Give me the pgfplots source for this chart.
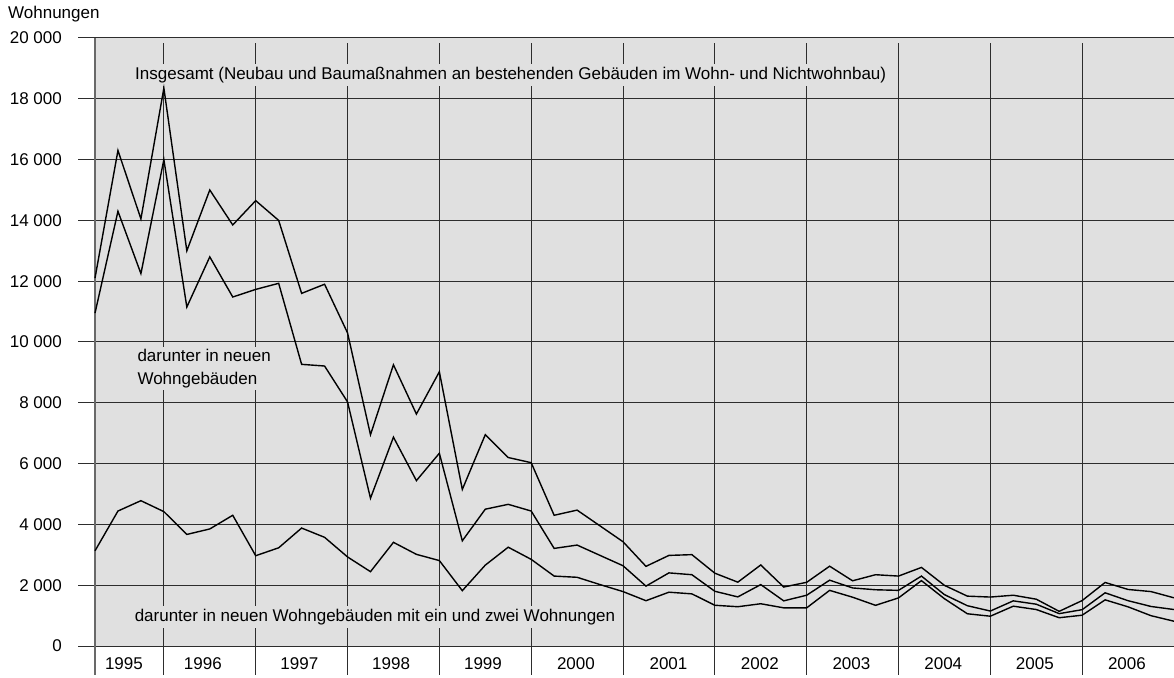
\documentclass[border=0pt]{standalone}
\usepackage{pgfplots}
\pgfplotsset{compat=1.18}
\usepackage{pgfplotstable}
\usepackage{fontspec}
\setmainfont{Liberation Sans}
\definecolor{bg}{RGB}{224,224,224}
\definecolor{gridc}{RGB}{45,45,45}
\definecolor{leftc}{RGB}{105,105,105}

\pgfplotstableread{
i v
0 12100
1 16300
2 14050
3 18350
4 13000
5 15000
6 13850
7 14650
8 14000
9 11600
10 11900
11 10300
12 6950
13 9250
14 7630
15 9020
16 5150
17 6950
18 6200
19 6030
20 4300
21 4470
22 3950
23 3430
24 2620
25 2980
26 3005
27 2395
28 2100
29 2665
30 1940
31 2095
32 2625
33 2145
34 2345
35 2300
36 2585
37 1995
38 1640
39 1610
40 1670
41 1540
42 1140
43 1495
44 2090
45 1860
46 1790
47 1585
}\insgesamt

\pgfplotstableread{
i v
0 10950
1 14300
2 12250
3 16000
4 11150
5 12800
6 11480
7 11730
8 11930
9 9265
10 9210
11 8030
12 4860
13 6870
14 5440
15 6340
16 3460
17 4500
18 4660
19 4440
20 3210
21 3320
22 2980
23 2640
24 1970
25 2405
26 2345
27 1800
28 1615
29 2020
30 1485
31 1670
32 2165
33 1910
34 1850
35 1830
36 2300
37 1690
38 1325
39 1150
40 1485
41 1375
42 1065
43 1195
44 1750
45 1490
46 1300
47 1200
}\neuwohn

\pgfplotstableread{
i v
0 3130
1 4440
2 4780
3 4420
4 3670
5 3850
6 4300
7 2970
8 3230
9 3880
10 3575
11 2930
12 2445
13 3410
14 3015
15 2810
16 1820
17 2660
18 3250
19 2850
20 2300
21 2260
22 2020
23 1790
24 1490
25 1770
26 1715
27 1340
28 1292
29 1390
30 1255
31 1255
32 1830
33 1605
34 1338
35 1582
36 2150
37 1556
38 1060
39 980
40 1310
41 1200
42 930
43 1013
44 1518
45 1288
46 997
47 815
}\einzwei

\begin{document}
\begin{tikzpicture}
\begin{axis}[
  at={(95pt,31pt)}, anchor=south west,
  scale only axis, width=1079pt, height=608pt,
  xmin=0, xmax=47, ymin=0, ymax=20000,
  scaled y ticks=false, scaled x ticks=false,
  axis background/.style={fill=bg},
  axis line style={draw=none},
  clip=false,
  major tick length=0pt,
  ytick={0,2000,4000,6000,8000,10000,12000,14000,16000,18000,20000},
  yticklabels={\mbox{0},\mbox{2 000},\mbox{4 000},\mbox{6 000},\mbox{8 000},\mbox{10 000},\mbox{12 000},\mbox{14 000},\mbox{16 000},\mbox{18 000},\mbox{20 000}},
  ymajorgrids, grid style={gridc, line width=1pt},
  xtick={1.26,4.7,8.9,12.9,16.9,20.95,24.98,28.96,32.95,36.95,40.94,44.95},
  xticklabels={\mbox{1995},\mbox{1996},\mbox{1997},\mbox{1998},\mbox{1999},\mbox{2000},\mbox{2001},\mbox{2002},\mbox{2003},\mbox{2004},\mbox{2005},\mbox{2006}},
  tick style={draw=none},
  tick label style={font=\fontsize{17}{20}\selectfont},
  yticklabel style={anchor=east, inner sep=0pt, xshift=-33pt},
  xticklabel style={anchor=north, inner sep=0pt, yshift=-11pt},
]
% y tick extensions
\pgfplotsinvokeforeach{0,2000,4000,6000,8000,10000,12000,14000,16000,18000,20000}{
  \draw[gridc, line width=1pt] (axis cs:0,#1) -- ++(-17pt,0);
}
% year separators
\pgfplotsinvokeforeach{3,7,11,15,19,23,27,31,35,39,43}{
  \draw[gridc, line width=1pt] (axis cs:#1,19830) -- (axis cs:#1,0) -- ++(0,-29pt);
}
% left axis line
\draw[leftc, line width=2pt] (axis cs:0,20000) -- (axis cs:0,0) -- ++(0,-29pt);

\node[anchor=west, fill=bg, inner xsep=1pt, inner ysep=3pt, font=\fontsize{17}{20}\selectfont]
  at (axis cs:1.70,18780) {Insgesamt (Neubau und Baumaßnahmen an bestehenden Gebäuden im Wohn- und Nichtwohnbau)};
\node[anchor=west, fill=bg, inner xsep=1pt, inner ysep=2pt, align=left, font=\fontsize{17}{23}\selectfont]
  at (axis cs:1.80,9120) {darunter in neuen\\Wohngebäuden};
\node[anchor=west, fill=bg, inner xsep=1pt, inner ysep=3pt, font=\fontsize{17}{20}\selectfont]
  at (axis cs:1.68,960) {darunter in neuen Wohngebäuden mit ein und zwei Wohnungen};

\addplot[black, line width=1.4pt, mark=none] table[x=i, y=v] {\insgesamt};
\addplot[black, line width=1.4pt, mark=none] table[x=i, y=v] {\neuwohn};
\addplot[black, line width=1.4pt, mark=none] table[x=i, y=v] {\einzwei};
\end{axis}
\node[anchor=west, inner sep=0pt, font=\fontsize{17}{20}\selectfont] at (8pt,663pt) {Wohnungen};
\pgfresetboundingbox
\path[use as bounding box] (0,0) rectangle (1174pt,677pt);
\end{tikzpicture}
\end{document}
